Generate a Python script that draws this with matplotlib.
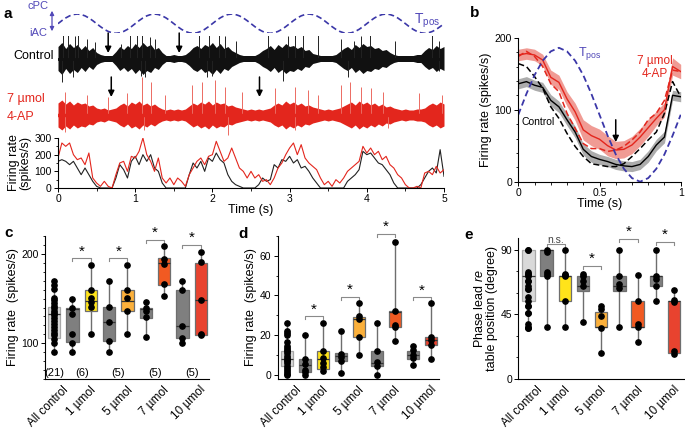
import numpy as np
import matplotlib
matplotlib.use('Agg')
import matplotlib.pyplot as plt
from matplotlib.ticker import MultipleLocator
import matplotlib.transforms as mtransforms

plt.rcParams['font.family'] = ['Liberation Sans', 'DejaVu Sans']
plt.rcParams['mathtext.fontset'] = 'custom'
plt.rcParams['mathtext.rm'] = 'Liberation Sans'
plt.rcParams['mathtext.it'] = 'Liberation Sans:italic'
plt.rcParams['axes.linewidth'] = 0.8

# ---------------- data ----------------
# table position over one cycle (0..1 s, 0.05 s steps)
tpos_cycle = [93, 122, 148, 168, 181, 186, 181, 168, 148, 122, 93,
              64, 38, 18, 5, 0, 5, 18, 38, 64, 93]

# panel a: raw trace envelopes (half amplitude, 0.05 s steps)
env_ctrl = [12, 16, 10, 15, 11, 14, 9, 13, 8, 11, 6, 4,
            3, 3, 3,
            7, 12, 9, 13, 10, 15, 11, 16, 12, 14, 9, 11, 6,
            3, 3, 4, 3, 3, 4,
            7, 11, 13, 10, 14, 12, 16, 11, 15, 10, 12, 8, 6, 4, 3,
            3, 3, 3,
            5, 8, 10, 13, 9, 14, 11, 15, 12, 13, 10, 12, 8, 9, 5, 4,
            3, 3, 3, 3, 4,
            7, 10, 12, 9, 14, 11, 15, 12, 13, 10, 11, 8, 9, 6, 4, 3,
            3, 3, 3, 3, 4, 4,
            8, 11, 9, 13, 10, 12]
env_4ap = [12, 15, 11, 14, 10, 13, 11, 12, 9, 10, 7,
           6, 7, 5, 6, 7,
           10, 12, 9, 13, 11, 14, 10, 12, 9, 11, 8,
           6, 5, 6, 5, 6, 5, 6,
           9, 12, 10, 13, 11, 14, 10, 13, 11, 12, 9, 10, 8, 7, 6,
           5, 6, 5, 6, 5, 6, 7,
           10, 12, 10, 14, 11, 13, 10, 12, 9, 10, 8, 7, 6,
           5, 6, 5, 6, 7,
           9, 11, 13, 10, 14, 11, 13, 10, 12, 9, 11, 8, 9, 7, 6,
           5, 6, 5, 5, 6, 6, 7,
           10, 12, 10, 13, 11]
# tall spikes (time s, amplitude)
spk_ctrl_t = [0.06, 0.13, 0.22, 0.26, 0.37, 0.48, 0.82, 0.93, 1.02, 1.09, 1.19, 1.26,
              1.82, 1.95, 2.08, 2.16, 2.31, 2.72, 2.98, 3.07, 3.18, 3.37, 3.67, 3.83,
              3.93, 4.04, 4.37, 4.84, 4.93,
              0.05, 0.20, 1.08, 1.13, 1.93, 1.99, 2.92, 3.76, 4.93]
spk_ctrl_a = [30, 37, 23, 27, 20, 17, 15, 27, 32, 35, 22, 20,
              25, 35, 30, 23, 18, 27, 23, 28, 25, 28, 20, 18,
              23, 25, 18, 25, 18,
              -23, -18, -17, -18, -18, -17, -22, -18, -12]
spk_4ap_t = [0.09, 0.37, 0.65, 0.89, 1.09, 1.21, 1.39, 1.73, 1.86, 2.03, 2.16, 2.38,
             2.81, 3.07, 3.24, 3.37, 3.67, 3.78, 3.93, 4.06, 4.21, 4.67, 4.97,
             0.09, 1.11, 2.20, 3.07, 4.28]
spk_4ap_a = [23, 20, 18, 22, 38, 33, 20, 30, 33, 35, 28, 23,
             27, 28, 25, 20, 30, 33, 28, 27, 23, 22, 20,
             -17, -15, -20, -15, -13]

# panel a: firing rate (spikes/s, 0.05 s steps)
fr_ctrl = [160, 170, 160, 140, 160, 120, 80, 120, 80, 40, 10, 0, 0, 0, 0, 60, 140, 110, 60, 160,
           190, 140, 200, 160, 200, 120, 100, 30, 0, 0, 0, 0, 0, 0, 80, 150, 120, 160, 100, 180,
           160, 210, 170, 150, 80, 40, 20, 10, 0, 0, 0, 0, 20, 60, 40, 50, 140, 120, 170, 160,
           190, 150, 170, 120, 130, 100, 60, 30, 0, 0, 0, 0, 0, 0, 0, 40, 60, 80, 110, 220,
           200, 210, 180, 150, 140, 110, 80, 30, 0, 0, 0, 0, 0, 0, 20, 60, 100, 120, 90, 230, 70]
fr_4ap = [180, 270, 250, 270, 200, 170, 180, 140, 210, 60, 30, 10, 40, 10, 0, 80, 150, 160, 100, 190,
          180, 220, 300, 200, 160, 100, 180, 60, 30, 60, 20, 60, 40, 10, 80, 120, 160, 180, 140, 190,
          200, 280, 220, 160, 180, 240, 180, 120, 100, 60, 100, 60, 80, 40, 50, 20, 60, 120, 150, 200,
          240, 270, 200, 260, 180, 150, 130, 110, 60, 20, 40, 10, 50, 30, 60, 100, 120, 140, 160, 250,
          210, 240, 200, 220, 170, 190, 140, 120, 80, 60, 20, 0, 0, 10, 0, 90, 100, 80, 130, 90, 110]

# panel b: cycle-averaged firing rate (0.05 s steps)
b_4ap_mean = [176, 178, 176, 169, 145, 138, 115, 97, 72, 64, 59, 50, 44, 45, 51, 62, 75, 88, 100, 160, 153]
b_4ap_sem = [8, 8, 8, 8, 10, 10, 10, 12, 14, 14, 14, 14, 12, 12, 12, 12, 12, 10, 10, 12, 10]
b_ctrl_mean = [136, 139, 134, 131, 113, 104, 86, 69, 45, 35, 31, 28, 24, 22, 21, 24, 35, 51, 62, 120, 118]
b_ctrl_sem = [7, 7, 7, 7, 8, 8, 8, 8, 8, 8, 7, 7, 7, 7, 7, 7, 8, 8, 8, 7, 7]
b_4ap_dash = [174, 181, 174, 160, 136, 125, 95, 74, 53, 46, 46, 42, 44, 49, 58, 69, 86, 95, 113, 155, 153]
b_ctrl_dash = [164, 160, 146, 130, 104, 88, 67, 49, 35, 25, 23, 21, 21, 25, 35, 46, 58, 69, 95, 139, 118]

# panels c-e: groups
groups = ['All control', '1 \u00b5mol', '5 \u00b5mol', '7 \u00b5mol', '10 \u00b5mol']
counts = ['(21)', '(6)', '(5)', '(5)', '(5)']
box_colors = ['#d9d9d9', '#7f7f7f', '#ffe31a', '#7f7f7f', '#fbb03b',
              '#7f7f7f', '#f15a22', '#7f7f7f', '#e8432f']

c_dots = [[170, 165, 161, 151, 148, 145, 142, 139, 136, 134, 132, 128, 125, 121, 118, 115, 111, 109, 105, 100, 90],
          [150, 139, 133, 110, 100, 90],
          [187, 160, 151, 146, 141, 110],
          [170, 141, 124, 103, 90],
          [187, 160, 151, 136, 110],
          [146, 139, 136, 129, 107],
          [209, 194, 189, 166, 153],
          [170, 160, 119, 106, 100],
          [202, 191, 148, 110, 109]]
# q1, median, q3, whisker low, whisker high
c_box = [(106, 133, 141, 90, 170), (101, 138, 140, 90, 150), (136, 147, 160, 110, 187),
         (103, 124, 141, 90, 170), (136, 147, 160, 110, 187), (128, 138, 139.5, 107, 146),
         (165, 190, 195, 153, 209), (106, 119, 160, 100, 170), (109, 148, 190, 109, 202)]
c_sig = [(1, 2, 195, '*'), (3, 4, 195, '*'), (5, 6, 216, '*'), (7, 8, 210, '*')]

d_dots = [[26, 22.2, 21, 19.8, 16.4, 14.3, 13.5, 12.6, 11.8, 10.9, 9.2, 8.4, 7.5, 6.7, 5.9, 4.2, 3.4, 2.5, 1.3, 0.5, 0],
          [19.8, 8, 5.4, 2.5, 1.2, 0],
          [26, 12.1, 8.4, 5.9, 3.7, 1.7],
          [22.2, 10.4, 8.7, 6.7, 0.8],
          [36.1, 29.4, 28.2, 19, 10.1],
          [26, 11.7, 6.5, 4.5, 0],
          [67.2, 31.9, 25.2, 24, 17.1],
          [14.3, 12.6, 9.7, 8.4, 5],
          [36.1, 19, 17.6, 15.1, 7.9]]
d_box = [(4.2, 8, 11.7, 0, 26), (1.2, 4.7, 7.9, 0, 19.8), (3, 8, 11.7, 1.7, 26),
         (7, 9.2, 10.7, 0.8, 22.2), (19, 28.2, 28.9, 10.1, 36.1), (4.2, 6, 11.7, 0, 26),
         (24, 31.6, 31.9, 17.1, 67.2), (8, 9.7, 11.7, 5, 14.3), (15.1, 17.6, 19, 7.9, 36.1)]
d_sig = [(1, 2, 29.4, '*'), (3, 4, 39.1, '*'), (5, 6, 70.9, '*'), (7, 8, 39, '*')]

e_dots = [[90, 90, 74.7, 73, 73, 71.4, 68.4, 68.4, 64.9, 62.5, 62.5, 56.7, 53.9, 50.4, 50.4, 45.7, 45.7, 38, 36.4, 35.7, 35.7],
          [90, 88.2, 74.7, 73, 71.4, 36.4],
          [90, 73, 72, 71.4, 53.9, 36.4],
          [73, 71.4, 68.4, 64.4, 39.9],
          [50.9, 48.5, 43.9, 35.7, 18.2],
          [90, 71.9, 66, 63, 36.4],
          [72.6, 53.9, 38, 36.4, 25.9],
          [90, 71.9, 69.5, 64.9, 54.4],
          [62.1, 54.8, 53.2, 19.4, 17.5]]
e_box = [(53.9, 71.9, 89.8, 35.7, 89.8), (71.9, 89.8, 89.8, 36.4, 89.8), (53.9, 71.9, 71.9, 36.4, 89.8),
         (61.4, 64.9, 71.9, 39.9, 73), (36.4, 36.4, 46.4, 18.2, 50.9), (61.4, 64.9, 71.9, 36.4, 89.8),
         (36.4, 36.4, 53.9, 25.9, 72.6), (64.9, 71.9, 71.9, 54.4, 89.8), (18.2, 53.9, 53.9, 17.5, 62.1)]
e_sig = [(1, 2, 94, 'n.s.'), (3, 4, 78.4, '*'), (5, 6, 97.5, '*'), (7, 8, 95.2, '*')]

# ---------------- figure ----------------
W, H = 685, 429
fig = plt.figure(figsize=(W / 100, H / 100), dpi=100)
BLUE = '#3b37a8'
RED = '#e3261d'


def add_ax(x0, y0, x1, y1):
    return fig.add_axes([x0 / W, 1 - y1 / H, (x1 - x0) / W, (y1 - y0) / H])


def ftext(x, y, s, **kw):
    fig.text(x / W, 1 - y / H, s, **kw)


def style(ax):
    for s in ['top', 'right']:
        ax.spines[s].set_visible(False)
    ax.tick_params(labelsize=7.5, length=3, width=0.7, pad=1.5)
    ax.tick_params(which='minor', length=1.8, width=0.6)


# ---- panel a ----
t_fr = np.arange(len(fr_ctrl)) * 0.05
t_env = np.arange(len(env_ctrl)) * 0.05

ax_tp = add_ax(58, 14, 444, 33.3)
tpos_a = np.concatenate([tpos_cycle[:-1]] * 5 + [tpos_cycle[-1:]])
ax_tp.plot(t_fr, tpos_a, color=BLUE, lw=1.2, dashes=(3.5, 2))
ax_tp.set_xlim(0, 5)
ax_tp.set_ylim(0, 186)
ax_tp.axis('off')

ax_tr = add_ax(58, 36, 444, 138)
ax_tr.set_xlim(0, 5)
ax_tr.set_ylim(-138, -36)
ax_tr.axis('off')
base_c, base_r = -58.5, -115
ax_tr.fill_between(t_env, base_c - np.array(env_ctrl), base_c + np.array(env_ctrl),
                   color='#111111', lw=0)
ax_tr.vlines(spk_ctrl_t, base_c, base_c + np.array(spk_ctrl_a), color='#222222', lw=0.7)
ax_tr.fill_between(t_env, base_r - np.array(env_4ap), base_r + np.array(env_4ap),
                   color=RED, lw=0)
ax_tr.vlines(spk_4ap_t, base_r, base_r + np.array(spk_4ap_a), color='#ec6b62', lw=0.7)
ax_tr.plot([0, 5], [base_c, base_c], color='#111111', lw=2)
ax_tr.plot([0, 5], [base_r, base_r], color=RED, lw=2.5)
for t0, y0, y1 in [(0.65, -33, -53), (1.57, -33, -53), (0.69, -77, -97), (2.61, -77, -97)]:
    ax_tr.annotate('', xy=(t0, y1), xytext=(t0, y0), annotation_clip=False,
                   arrowprops=dict(arrowstyle='-|>', color='k', lw=1.1,
                                   mutation_scale=9, shrinkA=0, shrinkB=0))

ax_fr = add_ax(58, 138, 444, 188)
ax_fr.plot(t_fr, fr_ctrl, color='#222222', lw=0.8)
ax_fr.plot(t_fr, fr_4ap, color=RED, lw=0.8)
ax_fr.set_xlim(0, 5)
ax_fr.set_ylim(0, 300)
ax_fr.set_yticks([0, 100, 200, 300])
ax_fr.yaxis.set_minor_locator(MultipleLocator(50))
ax_fr.xaxis.set_minor_locator(MultipleLocator(0.5))
style(ax_fr)
ax_fr.set_xlabel('Time (s)', fontsize=9, labelpad=0)
ax_fr.set_ylabel('Firing rate\n(spikes/s)', fontsize=9, labelpad=2, linespacing=1.0)

ftext(4, 14, 'a', fontsize=11, weight='bold', va='center')
ftext(38, 6, 'cPC', fontsize=8, color='#5148b8', ha='center', va='center')
ftext(38, 33, 'iAC', fontsize=8, color='#5148b8', ha='center', va='center')
fig.add_artist(matplotlib.patches.FancyArrowPatch(
    (52 / W, 1 - 8 / H), (52 / W, 1 - 34 / H), transform=fig.transFigure,
    arrowstyle='<|-|>', mutation_scale=6, color='#5148b8', lw=0.9))
ftext(414, 21, r'T$_{\mathrm{pos}}$', fontsize=10, color='#5148b8', va='center')
ftext(13, 56, 'Control', fontsize=9, va='center')
ftext(7, 99, '7 \u00b5mol', fontsize=9, color=RED, va='center')
ftext(7, 117, '4-AP', fontsize=9, color=RED, va='center')

# ---- panel b ----
t_b = np.arange(len(tpos_cycle)) * 0.05
ax_b = add_ax(518.3, 37.7, 680.7, 181.7)
ax_b.fill_between(t_b, np.array(b_ctrl_mean) - b_ctrl_sem, np.array(b_ctrl_mean) + b_ctrl_sem,
                  color='#9e9e9e', lw=0, alpha=0.85)
ax_b.fill_between(t_b, np.array(b_4ap_mean) - b_4ap_sem, np.array(b_4ap_mean) + b_4ap_sem,
                  color='#ee8a82', lw=0, alpha=0.85)
ax_b.plot(t_b, b_ctrl_dash, color='k', lw=1.1, dashes=(4, 2))
ax_b.plot(t_b, b_4ap_dash, color=RED, lw=1.1, dashes=(4, 2))
ax_b.plot(t_b, b_ctrl_mean, color='k', lw=1)
ax_b.plot(t_b, b_4ap_mean, color=RED, lw=1)
ax_b.plot(t_b, tpos_cycle, color=BLUE, lw=1.3, dashes=(3.5, 2))
ax_b.set_xlim(0, 1)
ax_b.set_ylim(0, 200)
ax_b.set_xticks([0, 0.5, 1])
ax_b.set_xticklabels(['0', '0.5', '1'])
ax_b.set_yticks([0, 100, 200])
ax_b.xaxis.set_minor_locator(MultipleLocator(0.1))
ax_b.yaxis.set_minor_locator(MultipleLocator(20))
style(ax_b)
ax_b.set_xlabel('Time (s)', fontsize=9, labelpad=0)
ax_b.set_ylabel('Firing rate (spikes/s)', fontsize=9, labelpad=2)
ax_b.annotate('', xy=(0.6, 55), xytext=(0.6, 86),
              arrowprops=dict(arrowstyle='-|>', color='k', lw=1.1, mutation_scale=9,
                              shrinkA=0, shrinkB=0))
ax_b.text(0.37, 178, r'T$_{\mathrm{pos}}$', fontsize=9, color='#5148b8', va='center')
ax_b.text(0.84, 168, '7 \u00b5mol', fontsize=8.5, color=RED, ha='center', va='center')
ax_b.text(0.84, 150, '4-AP', fontsize=8.5, color=RED, ha='center', va='center')
ax_b.text(0.02, 83, 'Control', fontsize=7.5, va='center')
ftext(470, 13, 'b', fontsize=11, weight='bold', va='center')

# ---- panels c-e ----
positions = np.arange(9)
label_pos = [0, 1.5, 3.5, 5.5, 7.5]


def box_panel(ax, dots, box, sig, ylim, hook):
    stats = [dict(q1=b[0], med=b[1], q3=b[2], whislo=b[3], whishi=b[4], fliers=[]) for b in box]
    bp = ax.bxp(stats, positions=positions, widths=0.68, patch_artist=True,
                showcaps=False, showfliers=False,
                boxprops=dict(edgecolor='#6e6e6e', lw=0.9),
                whiskerprops=dict(color='#6e6e6e', lw=1),
                medianprops=dict(color='#333333', lw=0.9))
    for patch, col in zip(bp['boxes'], box_colors):
        patch.set_facecolor(col)
    bp['boxes'][0].set_edgecolor('#a8a8a8')
    for p, d in zip(positions, dots):
        ax.plot([p] * len(d), d, 'o', color='k', ms=3.8, zorder=4, clip_on=False)
    for x1, x2, y, s in sig:
        ax.plot([x1, x1, x2, x2], [y - hook, y, y, y - hook], color='#8a8a8a', lw=0.8,
                clip_on=False)
        if s == '*':
            ax.text((x1 + x2) / 2, y, s, ha='center', va='bottom', fontsize=11)
        else:
            ax.text((x1 + x2) / 2, y - hook * 0.3, s, ha='center', va='bottom', fontsize=7.5,
                    color='#444444')
    ax.set_ylim(*ylim)
    ax.set_xlim(-0.5, 8.45)
    ax.set_xticks([])
    style(ax)
    trans = mtransforms.blended_transform_factory(ax.transData, ax.transAxes)
    for lp, g in zip(label_pos, groups):
        ax.text(lp + 0.45, -0.035, g, transform=trans, rotation=45, ha='right', va='top',
                rotation_mode='anchor', fontsize=8.5)


ax_c = add_ax(45, 236, 209, 379)
box_panel(ax_c, c_dots, c_box, c_sig, (60, 220), 3.4)
ax_c.set_yticks([100, 200])
ax_c.yaxis.set_minor_locator(MultipleLocator(10))
ax_c.set_ylabel('Firing rate  (spikes/s)', fontsize=9, labelpad=2)
for lp, n in zip(label_pos, counts):
    ax_c.text(lp, 66.5, n, ha='center', va='center', fontsize=8)
ftext(4, 233, 'c', fontsize=11, weight='bold', va='center')

ax_d = add_ax(277.7, 236, 439, 379)
box_panel(ax_d, d_dots, d_box, d_sig, (-2.2, 70), 1.5)
ax_d.set_yticks([0, 20, 40, 60])
ax_d.yaxis.set_minor_locator(MultipleLocator(10))
ax_d.set_ylabel('Firing rate  (spikes/s)', fontsize=9, labelpad=2)
ftext(238, 234, 'd', fontsize=11, weight='bold', va='center')

ax_e = add_ax(518.3, 238, 685, 379)
box_panel(ax_e, e_dots, e_box, e_sig, (0, 98), 2.1)
ax_e.set_xlim(-0.55, 8.6)
ax_e.set_yticks([0, 45, 90])
ax_e.yaxis.set_minor_locator(MultipleLocator(15))
ax_e.set_ylabel('Phase lead $\\it{re}$\ntable position (degree)', fontsize=9, labelpad=2,
                linespacing=1.0)
ftext(464, 235, 'e', fontsize=11, weight='bold', va='center')

fig.savefig('out.png', dpi=100)
